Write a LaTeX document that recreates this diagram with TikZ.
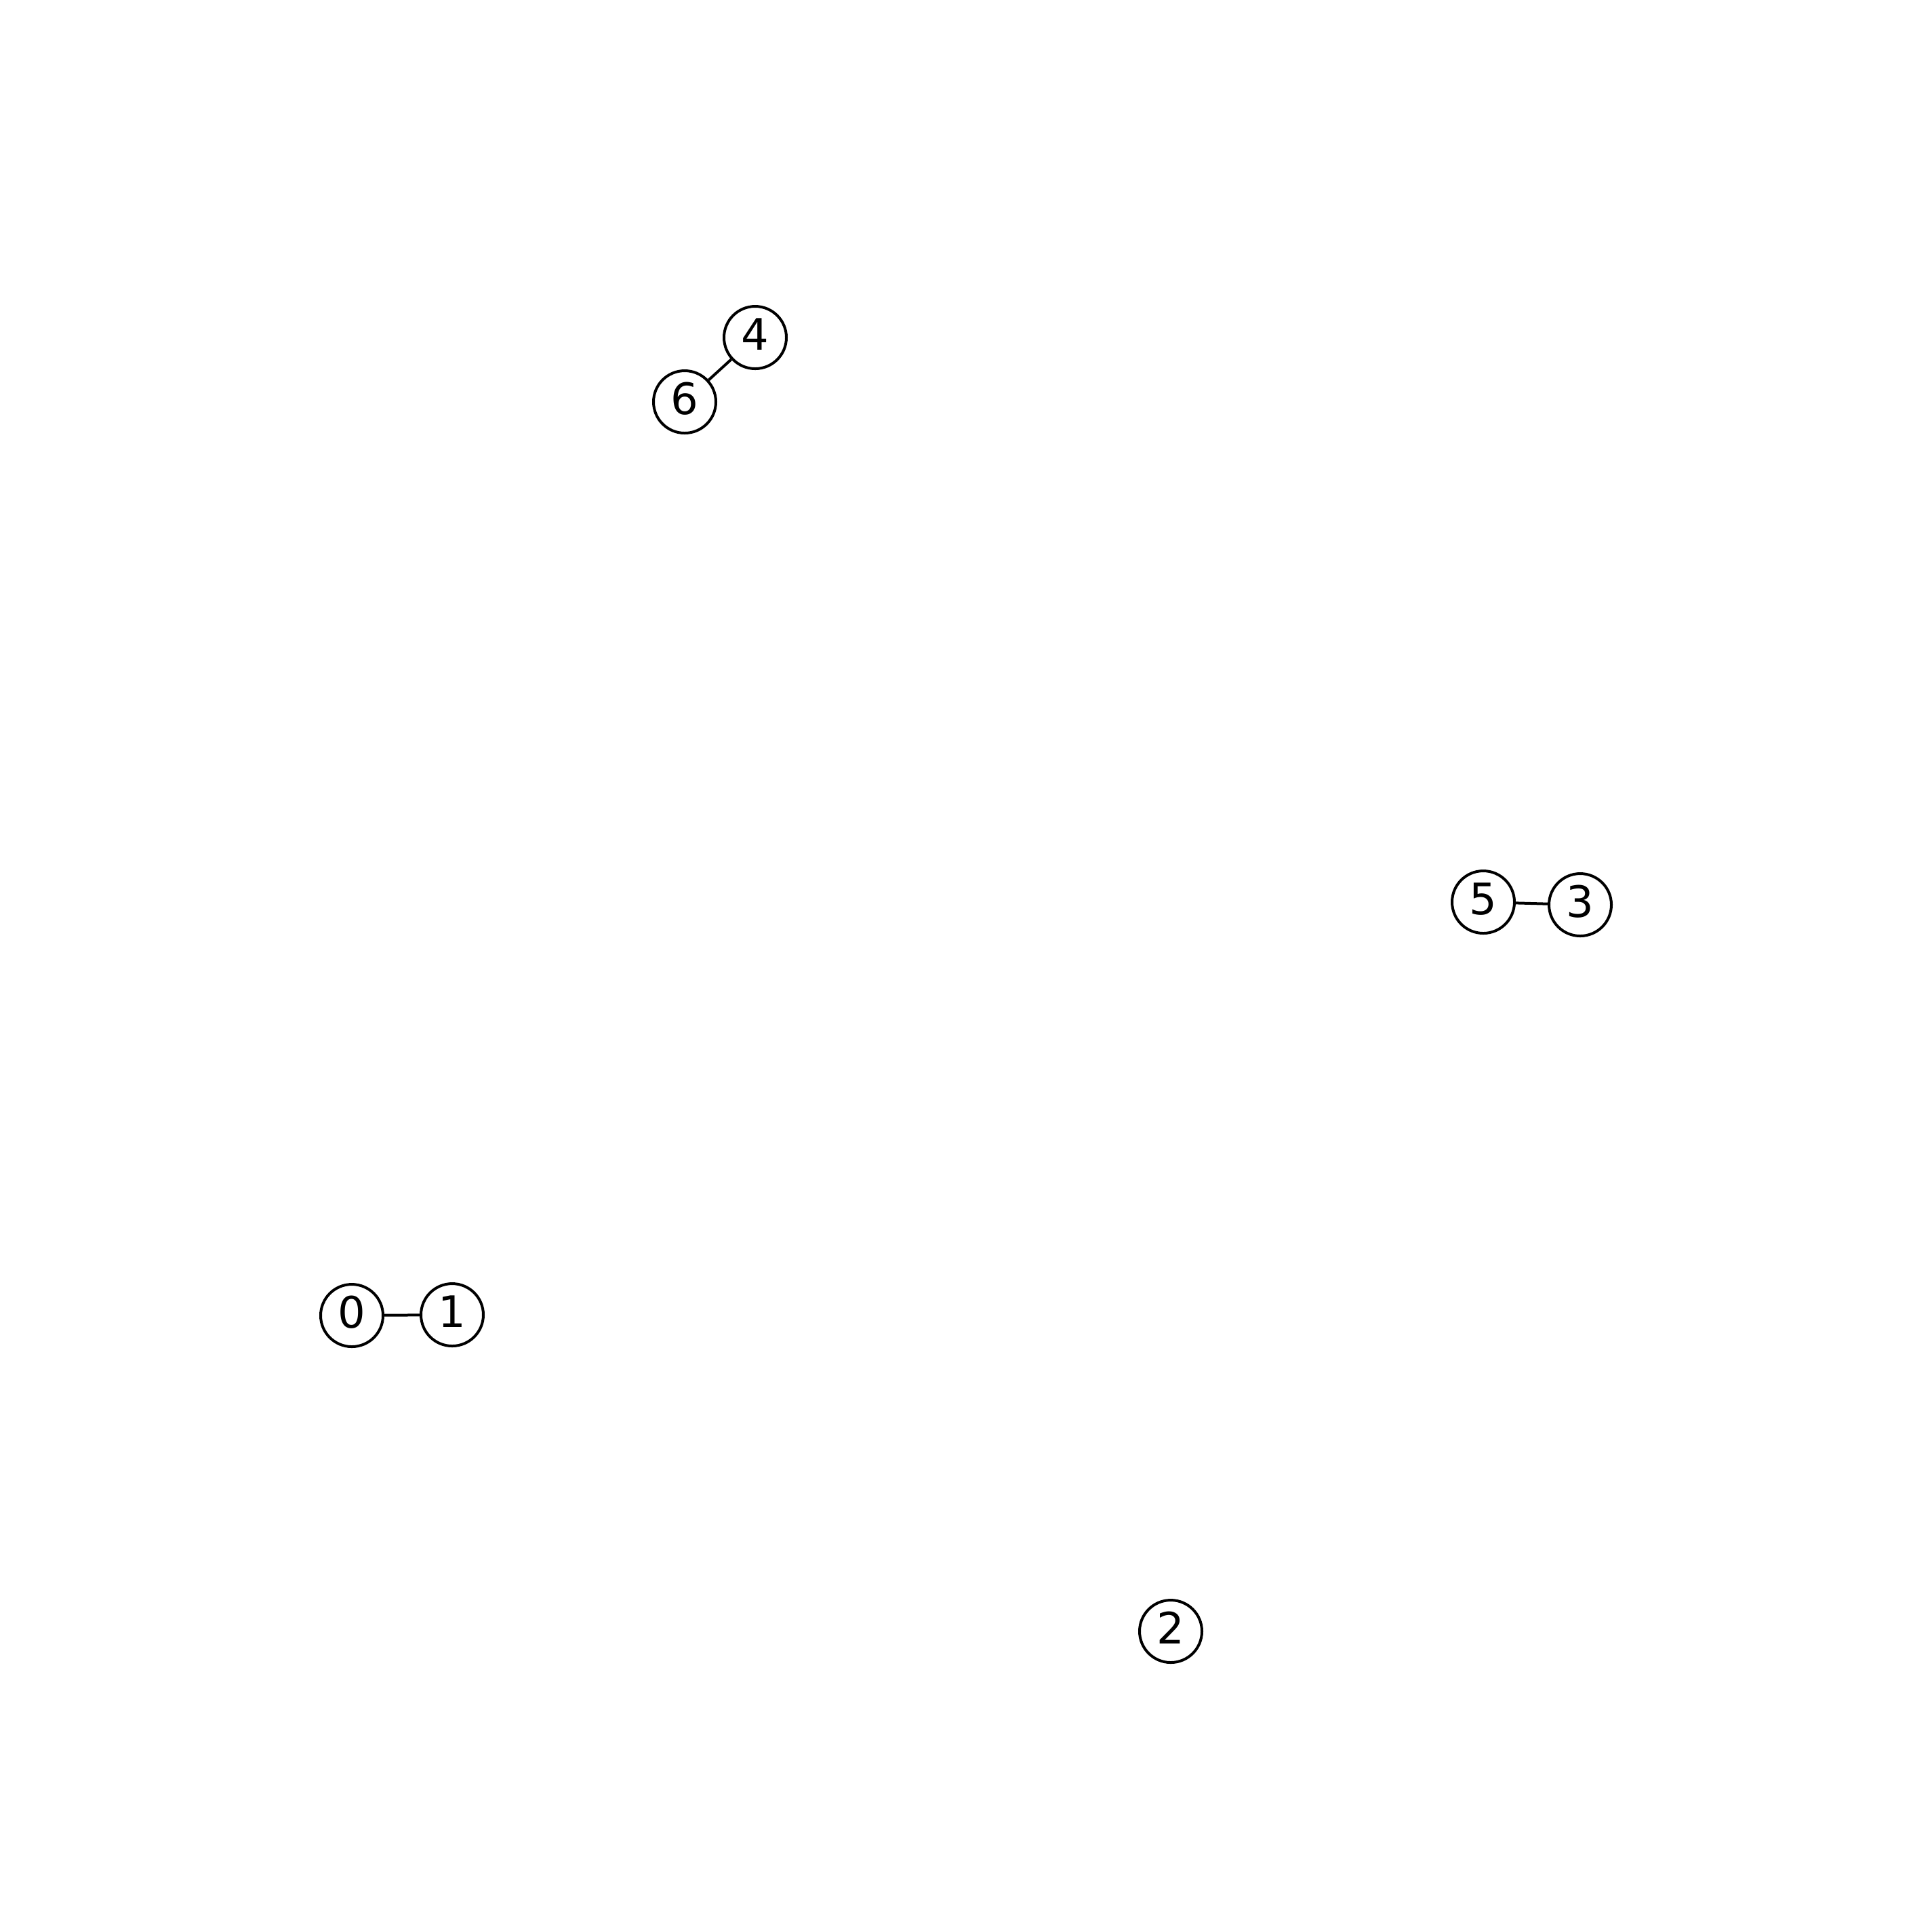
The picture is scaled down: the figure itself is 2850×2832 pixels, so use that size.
\documentclass[tikz,border=0pt]{standalone}
\usepackage{fontspec}
\setmainfont{DejaVu Sans}
\begin{document}
\begin{tikzpicture}[x=0.2pt,y=-0.2pt,
  vertex/.style={circle,draw=black,line width=0.8pt,fill=white,minimum size=18.4pt,inner sep=0pt,font=\fontsize{12.8}{14}\selectfont,text depth=2pt},
  edge/.style={draw=black,line width=0.8pt}]
\useasboundingbox (0,0) rectangle (2850,2832);
\node[vertex] (n4) at (1114,498) {4};
\node[vertex] (n6) at (1010,593) {6};
\node[vertex] (n5) at (2188,1331) {5};
\node[vertex] (n3) at (2331,1335) {3};
\node[vertex] (n0) at (519,1941) {0};
\node[vertex] (n1) at (667,1940) {1};
\node[vertex] (n2) at (1727,2407) {2};
\draw[edge] (n6) -- (n4);
\draw[edge] (n5) -- (n3);
\draw[edge] (n0) -- (n1);
\end{tikzpicture}
\end{document}
